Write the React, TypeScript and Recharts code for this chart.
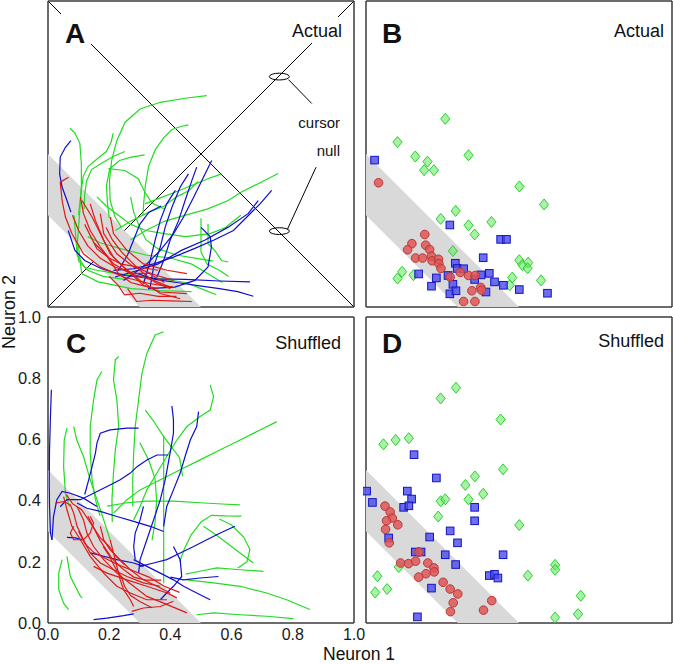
import React from "react";
import {
  ComposedChart,
  Scatter,
  XAxis,
  YAxis,
  ReferenceLine,
  ReferenceDot,
} from "recharts";

type Pt = [number, number];

const axisTicks = [0, 0.2, 0.4, 0.6, 0.8, 1.0];
const bandCorners: Pt[] = [[0, 0.5], [0.5, 0], [0.3, 0], [0, 0.3]];
const cursorLine: Pt[] = [[0, 0], [1, 1]];
const nullLine: Pt[] = [[0, 1], [1, 0]];
const ringCenters: Pt[] = [[0.756, 0.753], [0.756, 0.248]];
const leaderLines: Pt[][] = [
  [[0.786, 0.743], [0.862, 0.665]],
  [[0.782, 0.253], [0.876, 0.457]],
];

// panel A - actual trajectories
const aRed: Pt[][] = [
  [[0.067, 0.424], [0.04, 0.408], [0.046, 0.348], [0.057, 0.294], [0.078, 0.24], [0.116, 0.174], [0.171, 0.131], [0.247, 0.098], [0.334, 0.076], [0.41, 0.065]],
  [[0.106, 0.359], [0.116, 0.305], [0.138, 0.25], [0.171, 0.196], [0.214, 0.141], [0.269, 0.109], [0.345, 0.087], [0.399, 0.065]],
  [[0.111, 0.348], [0.144, 0.294], [0.171, 0.24], [0.203, 0.174], [0.247, 0.131], [0.301, 0.087], [0.367, 0.044], [0.432, 0.027]],
  [[0.138, 0.337], [0.155, 0.283], [0.182, 0.218], [0.214, 0.163], [0.258, 0.12], [0.312, 0.071], [0.367, 0.049], [0.454, 0.044]],
  [[0.171, 0.305], [0.182, 0.24], [0.225, 0.174], [0.28, 0.131], [0.356, 0.103], [0.41, 0.087]],
  [[0.204, 0.294], [0.214, 0.24], [0.258, 0.185], [0.312, 0.141], [0.389, 0.12], [0.454, 0.109]],
  [[0.2, 0.1], [0.23, 0.07], [0.25, 0.04], [0.3, 0.045], [0.36, 0.035], [0.42, 0.035]],
  [[0.26, 0.06], [0.29, 0.018], [0.34, 0.022], [0.4, 0.02], [0.47, 0.018]],
  [[0.08, 0.3], [0.1, 0.25], [0.13, 0.2], [0.17, 0.16], [0.22, 0.13], [0.28, 0.11], [0.33, 0.11], [0.38, 0.08]],
  [[0.12, 0.27], [0.14, 0.23], [0.16, 0.19], [0.2, 0.16], [0.24, 0.14], [0.3, 0.13], [0.36, 0.12]],
  [[0.19, 0.26], [0.21, 0.22], [0.24, 0.18], [0.27, 0.15], [0.3, 0.12], [0.35, 0.08], [0.4, 0.06]],
  [[0.15, 0.21], [0.19, 0.17], [0.23, 0.11], [0.27, 0.08], [0.31, 0.07], [0.36, 0.06]],
];

const aBlue: Pt[][] = [
  [[0.075, 0.544], [0.057, 0.522], [0.04, 0.49], [0.038, 0.435], [0.046, 0.392], [0.062, 0.348], [0.075, 0.31]],
  [[0.066, 0.25], [0.088, 0.185], [0.12, 0.152], [0.175, 0.125], [0.251, 0.103], [0.36, 0.092], [0.45, 0.09], [0.56, 0.085], [0.66, 0.082]],
  [[0.731, 0.381], [0.693, 0.337], [0.65, 0.294], [0.606, 0.25], [0.541, 0.218], [0.476, 0.19], [0.41, 0.163], [0.345, 0.141], [0.28, 0.125], [0.214, 0.12]],
  [[0.535, 0.479], [0.508, 0.424], [0.476, 0.359], [0.443, 0.294], [0.41, 0.239], [0.367, 0.185], [0.323, 0.141], [0.28, 0.109], [0.247, 0.087]],
  [[0.486, 0.457], [0.47, 0.413], [0.448, 0.348], [0.427, 0.283], [0.399, 0.218], [0.378, 0.152], [0.356, 0.098]],
  [[0.459, 0.435], [0.432, 0.392], [0.405, 0.326], [0.383, 0.261], [0.367, 0.196], [0.345, 0.131], [0.334, 0.065]],
  [[0.416, 0.381], [0.388, 0.337], [0.367, 0.283], [0.35, 0.218], [0.334, 0.152], [0.312, 0.076]],
  [[0.687, 0.348], [0.654, 0.305], [0.589, 0.261], [0.512, 0.218], [0.436, 0.185], [0.36, 0.141], [0.295, 0.12], [0.219, 0.098]],
  [[0.5, 0.26], [0.53, 0.23], [0.534, 0.196], [0.523, 0.131], [0.48, 0.087], [0.414, 0.065], [0.327, 0.06]],
  [[0.671, 0.035], [0.62, 0.05], [0.56, 0.06], [0.49, 0.07], [0.42, 0.08], [0.35, 0.09], [0.29, 0.11]],
  [[0.23, 0.12], [0.26, 0.17], [0.28, 0.22], [0.3, 0.27], [0.33, 0.31], [0.37, 0.33]],
];

const aGreen: Pt[][] = [
  [[0.519, 0.691], [0.454, 0.683], [0.367, 0.669], [0.301, 0.647], [0.252, 0.604], [0.225, 0.544], [0.208, 0.479], [0.201, 0.414], [0.203, 0.348], [0.219, 0.294], [0.24, 0.26]],
  [[0.459, 0.595], [0.432, 0.589], [0.405, 0.58], [0.378, 0.553], [0.351, 0.515], [0.329, 0.461], [0.318, 0.396], [0.313, 0.342], [0.31, 0.3]],
  [[0.072, 0.584], [0.088, 0.568], [0.104, 0.535], [0.109, 0.47], [0.109, 0.394], [0.105, 0.33], [0.1, 0.26], [0.095, 0.2], [0.1, 0.15], [0.13, 0.12], [0.18, 0.1], [0.25, 0.09]],
  [[0.213, 0.568], [0.207, 0.541], [0.191, 0.508], [0.164, 0.487], [0.131, 0.459], [0.115, 0.427], [0.109, 0.383], [0.104, 0.34], [0.1, 0.3]],
  [[0.316, 0.497], [0.272, 0.49], [0.234, 0.479], [0.202, 0.452], [0.191, 0.397], [0.194, 0.343], [0.2, 0.29]],
  [[0.197, 0.452], [0.251, 0.446], [0.295, 0.419], [0.316, 0.376], [0.34, 0.34], [0.38, 0.32]],
  [[0.251, 0.508], [0.213, 0.492], [0.175, 0.47], [0.142, 0.449], [0.126, 0.411], [0.12, 0.368], [0.118, 0.32]],
  [[0.752, 0.436], [0.687, 0.403], [0.632, 0.376], [0.589, 0.348], [0.52, 0.32], [0.45, 0.3], [0.38, 0.28], [0.32, 0.25], [0.27, 0.22]],
  [[0.567, 0.435], [0.523, 0.419], [0.469, 0.397], [0.415, 0.375], [0.36, 0.354], [0.317, 0.337]],
  [[0.523, 0.272], [0.523, 0.207], [0.545, 0.185], [0.567, 0.152], [0.589, 0.147]],
  [[0.5, 0.29], [0.5, 0.24], [0.5, 0.18], [0.52, 0.14], [0.56, 0.12], [0.59, 0.1]],
  [[0.099, 0.207], [0.11, 0.109], [0.164, 0.082], [0.273, 0.06], [0.36, 0.054], [0.469, 0.05]],
  [[0.085, 0.3], [0.09, 0.24], [0.095, 0.17], [0.12, 0.13], [0.16, 0.12], [0.22, 0.11], [0.3, 0.1], [0.38, 0.09], [0.45, 0.08], [0.5, 0.06], [0.55, 0.04]],
  [[0.16, 0.36], [0.19, 0.33], [0.23, 0.3], [0.27, 0.27], [0.32, 0.25], [0.38, 0.24], [0.45, 0.23], [0.53, 0.24], [0.58, 0.26], [0.63, 0.3]],
  [[0.22, 0.25], [0.27, 0.28], [0.33, 0.31], [0.38, 0.33], [0.42, 0.36], [0.46, 0.38], [0.49, 0.41]],
  [[0.27, 0.36], [0.28, 0.31], [0.3, 0.26], [0.32, 0.22], [0.36, 0.19], [0.42, 0.17], [0.48, 0.16], [0.54, 0.15]],
  [[0.13, 0.23], [0.17, 0.21], [0.24, 0.19], [0.32, 0.17], [0.4, 0.16], [0.47, 0.14], [0.52, 0.11], [0.57, 0.08]],
];

// panel B - actual endpoints
const bGreen: Pt[] = [
  [0.259, 0.615], [0.103, 0.539], [0.161, 0.492], [0.201, 0.475], [0.19, 0.447], [0.222, 0.447], [0.335, 0.496],
  [0.501, 0.394], [0.582, 0.335], [0.293, 0.314], [0.244, 0.288], [0.335, 0.267], [0.355, 0.237], [0.41, 0.278],
  [0.284, 0.183], [0.118, 0.115], [0.103, 0.093], [0.155, 0.104], [0.478, 0.096], [0.47, 0.071], [0.501, 0.153],
  [0.511, 0.137], [0.53, 0.145], [0.528, 0.127], [0.572, 0.087],
];
const bBlue: Pt[] = [
  [0.028, 0.48], [0.274, 0.268], [0.44, 0.221], [0.459, 0.221], [0.383, 0.161], [0.172, 0.108], [0.214, 0.068],
  [0.23, 0.095], [0.292, 0.143], [0.298, 0.126], [0.319, 0.125], [0.268, 0.103], [0.284, 0.074], [0.274, 0.043],
  [0.294, 0.053], [0.355, 0.09], [0.376, 0.105], [0.403, 0.11], [0.42, 0.082], [0.449, 0.071], [0.392, 0.049],
  [0.501, 0.057], [0.593, 0.045],
];
const bRed: Pt[] = [
  [0.041, 0.406], [0.192, 0.237], [0.15, 0.207], [0.136, 0.187], [0.195, 0.202], [0.208, 0.188], [0.162, 0.16],
  [0.185, 0.16], [0.214, 0.166], [0.216, 0.151], [0.237, 0.156], [0.238, 0.142], [0.245, 0.126], [0.275, 0.098],
  [0.308, 0.113], [0.335, 0.103], [0.357, 0.103], [0.375, 0.064], [0.346, 0.053], [0.378, 0.055], [0.319, 0.018],
  [0.356, 0.018],
];

// panel C - shuffled trajectories
const cRed: Pt[][] = [
  [[0.024, 0.392], [0.051, 0.397], [0.073, 0.386], [0.084, 0.359], [0.095, 0.316], [0.116, 0.272], [0.138, 0.229], [0.171, 0.196], [0.214, 0.174], [0.258, 0.152], [0.312, 0.131], [0.367, 0.12]],
  [[0.051, 0.413], [0.062, 0.37], [0.078, 0.316], [0.106, 0.272], [0.138, 0.218], [0.182, 0.163], [0.225, 0.12], [0.269, 0.098], [0.323, 0.076], [0.389, 0.076]],
  [[0.095, 0.381], [0.116, 0.337], [0.127, 0.294], [0.149, 0.25], [0.182, 0.207], [0.225, 0.163], [0.28, 0.12], [0.323, 0.087], [0.378, 0.065], [0.454, 0.033]],
  [[0.084, 0.316], [0.073, 0.294], [0.084, 0.272], [0.116, 0.272], [0.138, 0.294], [0.149, 0.327], [0.138, 0.348]],
  [[0.171, 0.316], [0.182, 0.272], [0.203, 0.239], [0.236, 0.207], [0.269, 0.174], [0.312, 0.141], [0.356, 0.12], [0.399, 0.098]],
  [[0.149, 0.185], [0.193, 0.163], [0.258, 0.141], [0.323, 0.12], [0.389, 0.098], [0.421, 0.082]],
  [[0.274, 0.038], [0.312, 0.049], [0.367, 0.054], [0.41, 0.071]],
  [[0.203, 0.272], [0.214, 0.229], [0.225, 0.185], [0.236, 0.141], [0.247, 0.109], [0.269, 0.076], [0.28, 0.054]],
  [[0.06, 0.42], [0.08, 0.39], [0.11, 0.37], [0.13, 0.34], [0.15, 0.31], [0.17, 0.28], [0.2, 0.25], [0.22, 0.22], [0.25, 0.19]],
  [[0.1, 0.3], [0.12, 0.26], [0.15, 0.23], [0.19, 0.21], [0.23, 0.19], [0.28, 0.17], [0.33, 0.15], [0.38, 0.12], [0.43, 0.1]],
  [[0.18, 0.25], [0.2, 0.22], [0.22, 0.18], [0.24, 0.15], [0.25, 0.12], [0.27, 0.09], [0.3, 0.07], [0.34, 0.05]],
  [[0.13, 0.35], [0.15, 0.31], [0.17, 0.27], [0.19, 0.24], [0.21, 0.21], [0.24, 0.18], [0.28, 0.15], [0.32, 0.14], [0.37, 0.14]],
];

const cBlue: Pt[][] = [
  [[0.011, 0.762], [0.008, 0.675], [0.005, 0.566], [0.004, 0.457], [0.005, 0.381], [0.008, 0.294], [0.013, 0.272]],
  [[0.296, 0.637], [0.258, 0.637], [0.203, 0.631], [0.171, 0.62], [0.16, 0.588], [0.155, 0.555], [0.144, 0.511], [0.133, 0.468], [0.12, 0.42]],
  [[0.393, 0.549], [0.356, 0.549], [0.323, 0.533], [0.291, 0.511], [0.269, 0.49], [0.236, 0.468], [0.193, 0.446], [0.149, 0.424], [0.106, 0.403], [0.062, 0.403], [0.04, 0.38]],
  [[0.405, 0.709], [0.41, 0.664], [0.41, 0.62], [0.399, 0.555], [0.383, 0.468], [0.367, 0.403], [0.345, 0.337], [0.323, 0.272], [0.301, 0.207], [0.296, 0.163]],
  [[0.492, 0.691], [0.486, 0.642], [0.465, 0.598], [0.448, 0.544], [0.432, 0.49], [0.41, 0.435], [0.388, 0.381], [0.378, 0.316]],
  [[0.611, 0.316], [0.563, 0.294], [0.519, 0.272], [0.476, 0.25], [0.432, 0.229], [0.388, 0.207], [0.345, 0.196], [0.301, 0.185]],
  [[0.378, 0.299], [0.334, 0.316], [0.28, 0.332], [0.225, 0.348], [0.171, 0.365], [0.127, 0.375], [0.095, 0.392]],
  [[0.53, 0.076], [0.486, 0.098], [0.443, 0.12], [0.41, 0.141], [0.367, 0.163], [0.323, 0.185], [0.28, 0.207]],
  [[0.557, 0.152], [0.497, 0.147], [0.443, 0.141], [0.4, 0.15]],
  [[0.149, 0.011], [0.193, 0.016], [0.247, 0.024], [0.28, 0.03]],
  [[0.41, 0.25], [0.432, 0.207], [0.437, 0.152], [0.41, 0.12], [0.388, 0.098], [0.367, 0.076]],
  [[0.062, 0.28], [0.09, 0.278], [0.112, 0.272]],
  [[0.013, 0.272], [0.018, 0.348], [0.029, 0.403], [0.046, 0.43], [0.073, 0.424], [0.116, 0.408], [0.16, 0.381]],
  [[0.138, 0.229], [0.182, 0.218], [0.225, 0.207], [0.28, 0.196], [0.312, 0.185]],
  [[0.285, 0.207], [0.28, 0.25], [0.285, 0.294], [0.301, 0.337], [0.312, 0.381]],
];

const cGreen: Pt[][] = [
  [[0.378, 0.952], [0.35, 0.941], [0.323, 0.881], [0.307, 0.816], [0.296, 0.729], [0.285, 0.642], [0.28, 0.555], [0.277, 0.468], [0.277, 0.381]],
  [[0.231, 0.871], [0.22, 0.86], [0.214, 0.794], [0.225, 0.729], [0.231, 0.642], [0.22, 0.566], [0.214, 0.49], [0.209, 0.403], [0.21, 0.33]],
  [[0.176, 0.822], [0.16, 0.794], [0.149, 0.729], [0.138, 0.642], [0.138, 0.555], [0.144, 0.468], [0.155, 0.403], [0.17, 0.35]],
  [[0.062, 0.637], [0.053, 0.598], [0.051, 0.511], [0.057, 0.424], [0.07, 0.38]],
  [[0.084, 0.642], [0.094, 0.598], [0.116, 0.544], [0.138, 0.468], [0.16, 0.403], [0.182, 0.337], [0.203, 0.272]],
  [[0.53, 0.778], [0.541, 0.74], [0.53, 0.696], [0.497, 0.675], [0.454, 0.642], [0.421, 0.598], [0.388, 0.544], [0.356, 0.49], [0.323, 0.435], [0.301, 0.381], [0.28, 0.337]],
  [[0.748, 0.658], [0.693, 0.631], [0.628, 0.598], [0.563, 0.566], [0.497, 0.533], [0.432, 0.501], [0.367, 0.468], [0.301, 0.435], [0.258, 0.403], [0.214, 0.359]],
  [[0.627, 0.386], [0.584, 0.388], [0.497, 0.393], [0.41, 0.398], [0.323, 0.398], [0.258, 0.393], [0.193, 0.382]],
  [[0.632, 0.349], [0.58, 0.35], [0.534, 0.352], [0.501, 0.331], [0.468, 0.288], [0.447, 0.245], [0.43, 0.2]],
  [[0.856, 0.044], [0.78, 0.076], [0.715, 0.098], [0.628, 0.12], [0.541, 0.131], [0.454, 0.141]],
  [[0.802, 0.014], [0.715, 0.022], [0.628, 0.027], [0.541, 0.033], [0.486, 0.027]],
  [[0.704, 0.169], [0.628, 0.174], [0.552, 0.18], [0.5, 0.17], [0.45, 0.16]],
  [[0.508, 0.316], [0.56, 0.28], [0.606, 0.245], [0.671, 0.196]],
  [[0.046, 0.207], [0.035, 0.163], [0.035, 0.109], [0.051, 0.065], [0.067, 0.044]],
  [[0.062, 0.218], [0.073, 0.152], [0.106, 0.087], [0.112, 0.082]],
  [[0.378, 0.61], [0.378, 0.5], [0.378, 0.4], [0.378, 0.3], [0.378, 0.2], [0.378, 0.13]],
  [[0.318, 0.696], [0.345, 0.66], [0.378, 0.609], [0.4, 0.58], [0.43, 0.54], [0.44, 0.48]],
  [[0.3, 0.59], [0.33, 0.53], [0.35, 0.47], [0.355, 0.4], [0.35, 0.33], [0.34, 0.27]],
  [[0.56, 0.34], [0.6, 0.32], [0.64, 0.28], [0.66, 0.24], [0.65, 0.2], [0.62, 0.18]],
];

// panel D - shuffled endpoints
const dGreen: Pt[] = [
  [0.294, 0.769], [0.244, 0.734], [0.44, 0.665], [0.057, 0.584], [0.097, 0.598], [0.14, 0.604], [0.448, 0.502],
  [0.356, 0.479], [0.325, 0.451], [0.383, 0.422], [0.335, 0.404], [0.244, 0.398], [0.259, 0.404], [0.236, 0.348],
  [0.501, 0.32], [0.107, 0.183], [0.037, 0.153], [0.03, 0.1], [0.069, 0.111], [0.529, 0.155], [0.618, 0.19],
  [0.618, 0.174], [0.702, 0.089], [0.693, 0.029], [0.618, 0.018],
];
const dBlue: Pt[] = [
  [0.157, 0.55], [0.23, 0.474], [0.002, 0.431], [0.021, 0.394], [0.135, 0.431], [0.149, 0.405], [0.123, 0.378],
  [0.14, 0.383], [0.355, 0.378], [0.355, 0.334], [0.275, 0.301], [0.299, 0.262], [0.208, 0.281], [0.074, 0.278],
  [0.161, 0.232], [0.18, 0.232], [0.259, 0.223], [0.293, 0.191], [0.448, 0.223], [0.403, 0.155], [0.42, 0.159],
  [0.431, 0.147], [0.214, 0.114], [0.168, 0.02],
];
const dRed: Pt[] = [
  [0.062, 0.382], [0.079, 0.363], [0.086, 0.343], [0.067, 0.334], [0.104, 0.321], [0.064, 0.306], [0.076, 0.262],
  [0.173, 0.232], [0.113, 0.196], [0.139, 0.194], [0.162, 0.202], [0.202, 0.196], [0.222, 0.18], [0.223, 0.167],
  [0.196, 0.161], [0.172, 0.15], [0.252, 0.133], [0.275, 0.111], [0.3, 0.095], [0.285, 0.066], [0.276, 0.037],
  [0.384, 0.042], [0.411, 0.073],
];

const FONT = "'Liberation Sans', Arial, Helvetica, sans-serif";
const FRAME = "#3a3a3a";
const GREEN = "#22dc22";
const BLUE = "#0e0ecc";
const RED = "#e01818";
const BAND = "#d9d9d9";

const toXY = (pts: Pt[]) => pts.map(([x, y]) => ({ x, y }));

const noDot = () => <g />;

const Diamond = (p: any) => (
  <path
    d={`M${p.cx},${p.cy - 5.5}L${p.cx + 4.6},${p.cy}L${p.cx},${p.cy + 5.5}L${p.cx - 4.6},${p.cy}Z`}
    fill="#5fe85f"
    fillOpacity={0.55}
    stroke="#2ccf2c"
    strokeWidth={1}
  />
);
const Square = (p: any) => (
  <rect x={p.cx - 3.8} y={p.cy - 3.8} width={7.6} height={7.6} fill="#4a4aee" fillOpacity={0.8} stroke="#1414c0" strokeWidth={1} />
);
const Dot = (p: any) => (
  <circle cx={p.cx} cy={p.cy} r={4.3} fill="#e05555" fillOpacity={0.85} stroke="#b83a3a" strokeWidth={1} />
);
const Ring = (p: any) => (
  <ellipse cx={p.cx} cy={p.cy} rx={10} ry={3.4} fill="none" stroke="#000" strokeWidth={1} />
);

const fmt = (v: number) => v.toFixed(1);
const XTick = (p: any) => (
  <text x={p.x} y={p.y} dy="0.71em" textAnchor="middle" fontSize={16} fontFamily={FONT} fill="#1a1a1a">
    {fmt(p.payload.value)}
  </text>
);
const YTick = (p: any) => (
  <text x={p.x} y={p.y} dy="0.355em" textAnchor="end" fontSize={16.5} fontFamily={FONT} fill="#1a1a1a">
    {fmt(p.payload.value)}
  </text>
);

// invisible series so that axes without real marks still get a domain
const anchor = (xId: string, yId: string) => (
  <Scatter key={"anc" + xId + yId} xAxisId={xId} yAxisId={yId} data={toXY(bandCorners)} shape={noDot} isAnimationActive={false} />
);

const frameAxes = () => {
  const line = { stroke: FRAME, strokeWidth: 1.5 };
  const tl = { stroke: FRAME, strokeWidth: 1.2 };
  const common = { type: "number" as const, domain: [0, 1], ticks: axisTicks, tick: false, tickSize: 4, mirror: true, axisLine: line, tickLine: tl, interval: 0 };
  return [
    <XAxis key="xb" xAxisId="b" orientation="bottom" dataKey="x" {...common} />,
    <XAxis key="xt" xAxisId="t" orientation="top" dataKey="x" {...common} />,
    <YAxis key="yl" yAxisId="l" orientation="left" dataKey="y" {...common} />,
    <YAxis key="yr" yAxisId="r" orientation="right" dataKey="y" {...common} />,
    anchor("t", "r"),
  ];
};

const labelAxes = () => [
  <XAxis key="xlab" xAxisId="xl" type="number" dataKey="x" domain={[0, 1]} ticks={axisTicks} interval={0} height={30}
    tickSize={0} tickMargin={6} tickLine={false} axisLine={false} tick={XTick} />,
  <YAxis key="ylab" yAxisId="yl" type="number" dataKey="y" domain={[0, 1]} ticks={axisTicks} interval={0} width={40}
    tickSize={0} tickMargin={7} tickLine={false} axisLine={false} tick={YTick} />,
  anchor("xl", "yl"),
];

const band = () => (
  <Scatter key="band" xAxisId="b" yAxisId="l" data={toXY(bandCorners)} shape={noDot}
    line={{ fill: BAND, stroke: "none" }} isAnimationActive={false} />
);

const paths = (sets: Pt[][], color: string, id: string) =>
  sets.map((pts, i) => (
    <Scatter key={id + i} xAxisId="b" yAxisId="l" data={toXY(pts)} fill={color} shape={noDot}
      line={{ stroke: color, strokeWidth: 1.2, fill: "none" }} isAnimationActive={false} />
  ));

const points = (pts: Pt[], shape: any, id: string) => (
  <Scatter key={id} xAxisId="b" yAxisId="l" data={toXY(pts)} shape={shape} isAnimationActive={false} />
);

const M = 3;
const plainMargin = { top: M, right: M, bottom: M, left: M };

export default function App() {
  return (
    <div style={{ position: "absolute", left: 0, top: 0, width: 673, height: 664, overflow: "hidden", background: "#fff" }}>
      {/* A */}
      <div style={{ position: "absolute", left: 48 - M, top: 1 - M }}>
        <ComposedChart width={312} height={312} margin={plainMargin}>
          {frameAxes()}
          {band()}
          {paths(aGreen, GREEN, "ag")}
          {paths(aBlue, BLUE, "ab")}
          {paths(aRed, RED, "ar")}
          <ReferenceLine xAxisId="b" yAxisId="l" segment={toXY(cursorLine)} stroke="#000" strokeWidth={1} />
          <ReferenceLine xAxisId="b" yAxisId="l" segment={toXY(nullLine)} stroke="#000" strokeWidth={1} />
          {leaderLines.map((seg, i) => (
            <ReferenceLine key={"ld" + i} xAxisId="b" yAxisId="l" segment={toXY(seg)} stroke="#000" strokeWidth={1} />
          ))}
          {ringCenters.map(([x, y], i) => (
            <ReferenceDot key={"rg" + i} xAxisId="b" yAxisId="l" x={x} y={y} r={4} shape={Ring} />
          ))}
        </ComposedChart>
      </div>
      {/* B */}
      <div style={{ position: "absolute", left: 366 - M, top: 1 - M }}>
        <ComposedChart width={312} height={312} margin={plainMargin}>
          {frameAxes()}
          {band()}
          {points(bGreen, Diamond, "bg")}
          {points(bBlue, Square, "bb")}
          {points(bRed, Dot, "br")}
        </ComposedChart>
      </div>
      {/* C */}
      <div style={{ position: "absolute", left: 5, top: 317 - 12 }}>
        <ComposedChart width={368} height={351} margin={{ top: 12, right: 19, bottom: M, left: M }}>
          {labelAxes()}
          {frameAxes()}
          {band()}
          {paths(cGreen, GREEN, "cg")}
          {paths(cBlue, BLUE, "cb")}
          {paths(cRed, RED, "cr")}
        </ComposedChart>
      </div>
      {/* D */}
      <div style={{ position: "absolute", left: 366 - M, top: 317 - M }}>
        <ComposedChart width={312} height={312} margin={plainMargin}>
          {frameAxes()}
          {band()}
          {points(dGreen, Diamond, "dg")}
          {points(dBlue, Square, "db")}
          {points(dRed, Dot, "dr")}
        </ComposedChart>
      </div>
      <svg width={673} height={664} style={{ position: "absolute", left: 0, top: 0, pointerEvents: "none" }} fontFamily={FONT} fill="#111">
        <rect x={61} y={14} width={30} height={32} fill="#fff" />
        <rect x={286} y={17} width={60} height={26} fill="#fff" />
        <text x={65} y={43} fontSize={28} fontWeight="bold">A</text>
        <text x={382} y={43} fontSize={28} fontWeight="bold">B</text>
        <text x={66} y={353} fontSize={28} fontWeight="bold">C</text>
        <text x={382} y={353} fontSize={28} fontWeight="bold">D</text>
        <text x={342} y={37} fontSize={18} textAnchor="end">Actual</text>
        <text x={664} y={37} fontSize={18} textAnchor="end">Actual</text>
        <text x={341} y={349} fontSize={18} textAnchor="end">Shuffled</text>
        <text x={664} y={347} fontSize={18} textAnchor="end">Shuffled</text>
        <text x={340} y={128} fontSize={15} textAnchor="end">cursor</text>
        <text x={340} y={156} fontSize={15} textAnchor="end">null</text>
        <text x={359} y={660} fontSize={17.5} textAnchor="middle">Neuron 1</text>
        <text transform="translate(15,312) rotate(-90)" fontSize={18} textAnchor="middle">Neuron 2</text>
      </svg>
    </div>
  );
}
